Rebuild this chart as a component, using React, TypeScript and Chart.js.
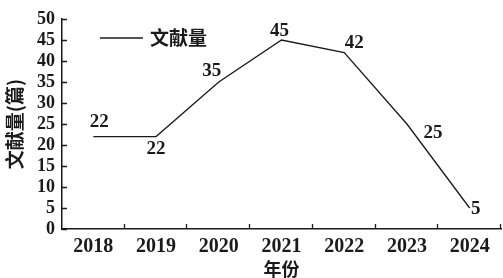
import React, { useEffect, useRef } from "react";
import { Chart, registerables } from "chart.js";

Chart.register(...registerables);

const categories = ["2018", "2019", "2020", "2021", "2022", "2023", "2024"];
const seriesName = "文献量";
const values = [22, 22, 35, 45, 42, 25, 5];
const yMin = 0;
const yMax = 50;
const yStep = 5;
const xTitle = "年份";
const yTitle = "文献量(篇)";

const SERIF = "'Liberation Serif', 'Times New Roman', serif";
const CJK = "'Noto Sans CJK SC', 'Noto Sans', sans-serif";
const INK = "#1a1a1a";

const labelOffsets: [number, number][] = [
  [6, -15],
  [0, 12],
  [-7, -11],
  [-2, -9],
  [10, -10],
  [26, 9],
  [6, 1],
];

const dataLabelPlugin = {
  id: "dataLabelPlugin",
  afterDatasetsDraw(chart: any) {
    const meta = chart.getDatasetMeta(0);
    const ctx = chart.ctx;
    ctx.save();
    ctx.font = `bold 19px ${SERIF}`;
    ctx.fillStyle = INK;
    ctx.textAlign = "center";
    ctx.textBaseline = "middle";
    meta.data.forEach((pt: any, i: number) => {
      const [dx, dy] = labelOffsets[i] || [0, -12];
      ctx.fillText(String(chart.data.datasets[0].data[i]), pt.x + dx, pt.y + dy);
    });
    ctx.restore();
  },
};

const tickMarkPlugin = {
  id: "tickMarks",
  afterDraw(chart: any) {
    const ctx = chart.ctx;
    const xs = chart.scales.x;
    const ys = chart.scales.y;
    const area = chart.chartArea;
    ctx.save();
    ctx.strokeStyle = INK;
    ctx.lineWidth = 1.3;
    ctx.beginPath();
    ys.ticks.forEach((t: any) => {
      const py = Math.round(ys.getPixelForValue(t.value)) + 0.5;
      ctx.moveTo(area.left, py);
      ctx.lineTo(area.left + 5, py);
    });
    for (let i = 0; i < categories.length; i++) {
      const px = Math.round(xs.getPixelForValue(i + 0.5)) - 0.5;
      ctx.moveTo(px, area.bottom);
      ctx.lineTo(px, area.bottom - 5);
    }
    ctx.stroke();
    ctx.restore();
  },
};

const legendPlugin = {
  id: "customLegend",
  afterDraw(chart: any) {
    const ctx = chart.ctx;
    ctx.save();
    ctx.strokeStyle = INK;
    ctx.lineWidth = 1.3;
    ctx.beginPath();
    ctx.moveTo(100, 38);
    ctx.lineTo(143, 38);
    ctx.stroke();
    ctx.font = `bold 19px ${CJK}`;
    ctx.fillStyle = INK;
    ctx.textAlign = "left";
    ctx.textBaseline = "middle";
    ctx.fillText(chart.data.datasets[0].label, 150, 38);
    ctx.restore();
  },
};

export default function App() {
  const ref = useRef<HTMLCanvasElement | null>(null);
  useEffect(() => {
    document.body.style.margin = "0";
    if (!ref.current) return;
    const chart = new Chart(ref.current, {
      type: "line",
      data: {
        labels: categories,
        datasets: [
          {
            label: seriesName,
            data: values,
            borderColor: INK,
            borderWidth: 1.3,
            pointRadius: 0,
            tension: 0,
            fill: false,
          },
        ],
      },
      options: {
        animation: false,
        responsive: false,
        maintainAspectRatio: false,
        layout: { padding: { top: 19, right: 2, left: 0, bottom: 0 } },
        plugins: {
          legend: { display: false },
          tooltip: { enabled: false },
        },
        scales: {
          x: {
            offset: true,
            grid: { display: false, drawTicks: false },
            border: { display: true, color: INK, width: 1.5 },
            ticks: {
              color: INK,
              font: { family: SERIF, size: 20, weight: "bold" },
              padding: 6,
              maxRotation: 0,
              autoSkip: false,
            },
            title: {
              display: true,
              text: xTitle,
              color: INK,
              font: { family: CJK, size: 18, weight: "bold", lineHeight: 1 },
              padding: { top: 0, bottom: 0 },
            },
            afterFit(scale: any) {
              scale.height = 49;
            },
          },
          y: {
            min: yMin,
            max: yMax,
            grid: { display: false, drawTicks: false },
            border: { display: true, color: INK, width: 1.5 },
            ticks: {
              stepSize: yStep,
              autoSkip: false,
              color: INK,
              font: { family: SERIF, size: 18, weight: "bold" },
              padding: 7,
            },
            title: {
              display: true,
              text: yTitle,
              color: INK,
              font: { family: CJK, size: 19, weight: "bold", lineHeight: 1 },
              padding: { top: 5, bottom: 0 },
            },
            afterFit(scale: any) {
              scale.width = 62;
            },
          },
        },
      },
      plugins: [dataLabelPlugin, tickMarkPlugin, legendPlugin],
    });
    return () => chart.destroy();
  }, []);
  return (
    <div style={{ width: 503, height: 278 }}>
      <canvas ref={ref} width={503} height={278} style={{ width: 503, height: 278, display: "block" }} />
    </div>
  );
}
